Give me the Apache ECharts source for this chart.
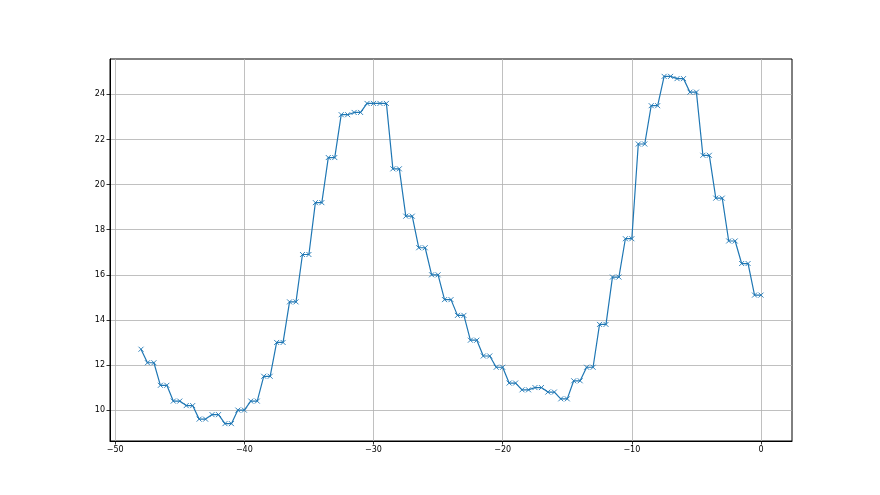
<!DOCTYPE html>
<html>
<head>
<meta charset="utf-8">
<script src="https://cdn.jsdelivr.net/npm/echarts@6/dist/echarts.min.js"></script>
<style>html,body{margin:0;padding:0;background:#fff}#c{width:880px;height:495px}</style>
</head>
<body>
<div id="c"></div>
<script>
// x values: hours relative to now, every 0.5
const xStart = -48;
const xStep = 0.5;
// y values (one per x)
const values = [
  12.7,
  12.1, 12.1, 11.1, 11.1, 10.4, 10.4, 10.2, 10.2, 9.6, 9.6,
  9.8, 9.8, 9.4, 9.4, 10.0, 10.0, 10.4, 10.4, 11.5, 11.5,
  13.0, 13.0, 14.8, 14.8, 16.9, 16.9, 19.2, 19.2, 21.2, 21.2,
  23.1, 23.1, 23.2, 23.2, 23.6, 23.6, 23.6, 23.6, 20.7, 20.7,
  18.6, 18.6, 17.2, 17.2, 16.0, 16.0, 14.9, 14.9, 14.2, 14.2,
  13.1, 13.1, 12.4, 12.4, 11.9, 11.9, 11.2, 11.2, 10.9, 10.9,
  11.0, 11.0, 10.8, 10.8, 10.5, 10.5, 11.3, 11.3, 11.9, 11.9,
  13.8, 13.8, 15.9, 15.9, 17.6, 17.6, 21.8, 21.8, 23.5, 23.5,
  24.8, 24.8, 24.7, 24.7, 24.1, 24.1, 21.3, 21.3, 19.4, 19.4,
  17.5, 17.5, 16.5, 16.5, 15.1, 15.1
];
const xTicks = [-50, -40, -30, -20, -10, 0];
const yTicks = [10, 12, 14, 16, 18, 20, 22, 24];

const data = values.map((v, i) => [xStart + i * xStep, v]);
const fmt = v => String(v).replace('-', '\u2212');
const labelStyle = {color: '#000', fontSize: 8, fontFamily: 'DejaVu Sans'};

const chart = echarts.init(document.getElementById('c'), null, {renderer: 'canvas'});
chart.setOption({
  animation: false,
  backgroundColor: '#fff',
  grid: {left: 110, right: 88, top: 59, bottom: 54, show: true, borderColor: '#000', borderWidth: 1, backgroundColor: 'transparent'},
  xAxis: {
    type: 'value', min: -50.4, max: 2.4, splitNumber: 5, minInterval: 10, maxInterval: 10,
    axisLine: {show: true, onZero: false, lineStyle: {color: '#000', width: 1}},
    axisTick: {show: true, length: 3.5, lineStyle: {color: '#000', width: 0.8}, customValues: xTicks},
    axisLabel: Object.assign({margin: 5, formatter: fmt, customValues: xTicks}, labelStyle),
    splitLine: {show: true, lineStyle: {color: '#b0b0b0', width: 0.8}}
  },
  yAxis: {
    type: 'value', min: 8.63, max: 25.57, splitNumber: 8, minInterval: 2, maxInterval: 2,
    axisLine: {show: true, onZero: false, lineStyle: {color: '#000', width: 1}},
    axisTick: {show: true, length: 3.5, lineStyle: {color: '#000', width: 0.8}, customValues: yTicks},
    axisLabel: Object.assign({margin: 5, formatter: fmt, customValues: yTicks}, labelStyle),
    splitLine: {show: true, lineStyle: {color: '#b0b0b0', width: 0.8}}
  },
  series: [{
    type: 'line',
    data: data,
    symbol: 'path://M0,0L10,10M10,0L0,10',
    symbolSize: 5,
    showAllSymbol: true,
    lineStyle: {color: '#1f77b4', width: 1.2},
    itemStyle: {color: 'rgba(0,0,0,0)', borderColor: '#1f77b4', borderWidth: 0.9},
    z: 3
  }]
});
</script>
</body>
</html>
